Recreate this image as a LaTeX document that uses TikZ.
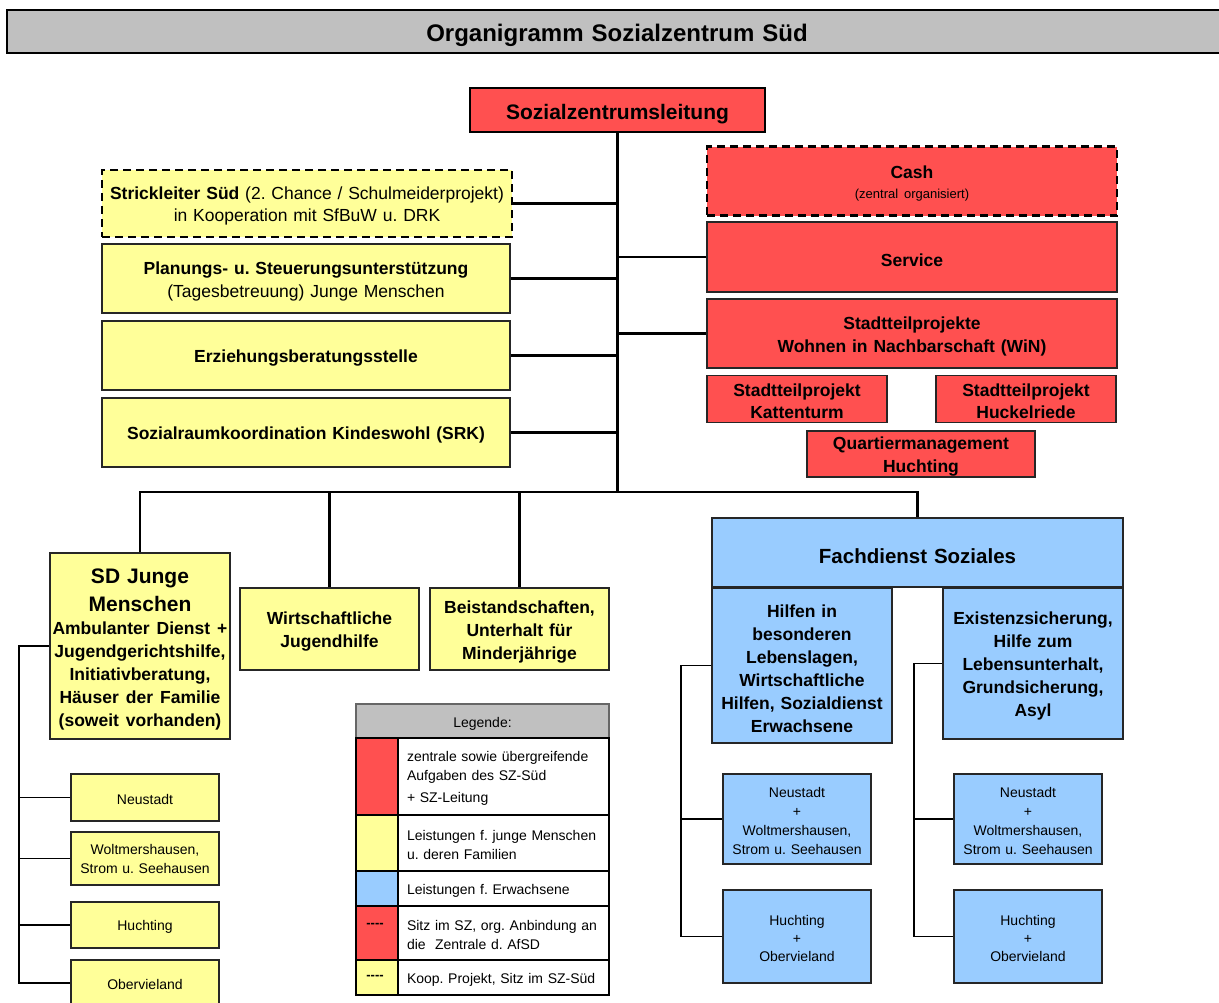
\documentclass[tikz,border=0pt]{standalone}
\usepackage{fontspec}
\setmainfont{Liberation Sans}
\frenchspacing
\definecolor{szred}{HTML}{FF5050}
\definecolor{szyellow}{HTML}{FFFF99}
\definecolor{szblue}{HTML}{99CCFF}
\definecolor{szgray}{HTML}{C0C0C0}
\newcommand\setfs[2]{\fontsize{#1}{#2}\selectfont}
\newcommand\tshamt{0.73em}
\begin{document}
\begin{tikzpicture}[x=1pt,y=-1pt,
  tsh/.code={\def\tshamt{#1}},
  box/.style={draw=black!85, line width=1.4pt, inner sep=0pt, align=center, tsh=1.06em, execute at begin node={\rule{0pt}{\tshamt}}},
  wh/.code 2 args={\pgfmathsetmacro\mytw{#1-3}\edef\mynext{\noexpand\tikzset{minimum width=#1pt,minimum height=#2pt,text width=\mytw pt}}\mynext},
  bf/.style={font=\bfseries\setfs{17.5}{23}},
  rg/.style={font=\setfs{17.5}{23}},
  sm/.style={font=\setfs{14}{19}, tsh=0.94em},
  dashbox/.style={draw=black, line width=2.4pt, dash pattern=on 8pt off 5pt},
  red/.style={fill=szred}, yel/.style={fill=szyellow}, blu/.style={fill=szblue},
  link/.style={draw=black, line width=2.8pt},
  sublink/.style={draw=black, line width=1.8pt},
  thinlink/.style={draw=black, line width=1.5pt},
  legcol/.style={draw=black, line width=2.6pt, minimum width=42pt, inner sep=0pt},
  legtext/.style={draw=black, line width=2.6pt, fill=white, align=left, text width=193pt, inner xsep=9pt, inner ysep=0pt, minimum width=211pt, font=\setfs{14}{19}, tsh=1.02em, execute at begin node={\rule{0pt}{\tshamt}}}
]
\useasboundingbox (0,0) rectangle (1219,1002);
\fill[white] (0,0) rectangle (1219,1002);

% title
\node[box, fill=szgray, draw=black, line width=2.5pt, wh={1220}{43}, font=\bfseries\setfs{24}{28}] (title) at (617,31.5) {Organigramm Sozialzentrum Süd};

% leadership
\node[box, red, draw=black, line width=2.4pt, wh={295}{44}, font=\bfseries\setfs{21}{25}, tsh=1.1em] (lead) at (617.5,110) {Sozialzentrumsleitung};

% left column
\node[box, yel, dashbox, wh={410}{67}, font=\setfs{17.5}{22}, tsh=1.0em] (strick) at (307,203.5) {\textbf{Strickleiter Süd} (2. Chance / Schulmeiderprojekt)\\in Kooperation mit SfBuW u. DRK};
\node[box, yel, wh={408}{69}, rg] (plan) at (306,278.5) {\textbf{Planungs- u. Steuerungsunterstützung}\\(Tagesbetreuung) Junge Menschen};
\node[box, yel, wh={408}{69}, bf] (erz) at (306,355.5) {Erziehungsberatungsstelle};
\node[box, yel, wh={408}{69}, bf] (srk) at (306,432.5) {Sozialraumkoordination Kindeswohl (SRK)};

% right column
\node[box, red, dashbox, wh={410}{69}, font=\bfseries\setfs{17.5}{21}] (cash) at (912,181) {Cash\par{\mdseries\setfs{13}{20}(zentral organisiert)\par}};
\node[box, red, wh={410}{70}, bf] (service) at (912,257) {Service};
\node[box, red, wh={410}{69}, bf] (win) at (912,333.5) {Stadtteilprojekte\\Wohnen in Nachbarschaft (WiN)};
\node[box, red, wh={180}{47}, font=\bfseries\setfs{17.5}{22}, tsh=0.98em] (katt) at (797,399) {Stadtteilprojekt\\Kattenturm};
\node[box, red, wh={180}{47}, font=\bfseries\setfs{17.5}{22}, tsh=0.98em] (huck) at (1026,399) {Stadtteilprojekt\\Huckelriede};
\node[box, red, wh={228}{46}, font=\bfseries\setfs{17.5}{23}, tsh=1.0em] (quart) at (921,454) {Quartiermanagement\\Huchting};

% lower row
\node[box, yel, wh={180}{186}, font=\bfseries\setfs{21}{28}, tsh=1.0em] (sd) at (140,646) {SD Junge\\Menschen\par{\setfs{17.5}{23}Ambulanter Dienst +\\Jugendgerichtshilfe,\\Initiativberatung,\\Häuser der Familie\\(soweit vorhanden)\par}};
\node[box, yel, wh={179}{82}, bf] (wjh) at (329.5,629) {Wirtschaftliche\\Jugendhilfe};
\node[box, yel, wh={179}{82}, bf] (beist) at (519.5,629) {Beistandschaften,\\Unterhalt für\\Minderjährige};

\node[box, blu, wh={411}{69}, font=\bfseries\setfs{20.5}{24}] (fach) at (917.5,552.5) {Fachdienst Soziales};
\node[box, blu, wh={180}{155}, bf] (hilfen) at (802,665.5) {Hilfen in\\besonderen\\Lebenslagen,\\Wirtschaftliche\\Hilfen, Sozialdienst\\Erwachsene};
\node[box, blu, wh={180}{151}, bf] (exist) at (1033,663.5) {Existenzsicherung,\\Hilfe zum\\Lebensunterhalt,\\Grundsicherung,\\Asyl};

% SD sub units
\node[box, yel, wh={148}{47}, sm] (neu1) at (145,797.5) {Neustadt};
\node[box, yel, wh={148}{53}, sm, tsh=0.73em] (wolt1) at (145,858.5) {Woltmershausen,\\Strom u. Seehausen};
\node[box, yel, wh={148}{46}, sm] (huch1) at (145,925) {Huchting};
\node[box, yel, wh={148}{46}, sm] (ober1) at (145,983) {Obervieland};

% blue sub units
\node[box, blu, wh={148}{90}, sm, tsh=0.97em] (bn1) at (797,819) {Neustadt\\+\\Woltmershausen,\\Strom u. Seehausen};
\node[box, blu, wh={148}{93}, font=\setfs{14}{18}, tsh=0.97em] (bh1) at (797,936.5) {Huchting\\+\\Obervieland};
\node[box, blu, wh={148}{90}, sm, tsh=0.97em] (bn2) at (1028,819) {Neustadt\\+\\Woltmershausen,\\Strom u. Seehausen};
\node[box, blu, wh={148}{93}, font=\setfs{14}{18}, tsh=0.97em] (bh2) at (1028,936.5) {Huchting\\+\\Obervieland};

% legend
\node[box, fill=szgray, draw=black!60, wh={253}{34}, font=\setfs{14}{18}, tsh=1.15em] (leghead) at (482.5,721) {Legende:};
\node[legcol, red, minimum height=77pt] (c1) at (377,776.5) {};
\node[legcol, yel, minimum height=56pt] (c2) at (377,843) {};
\node[legcol, blu, minimum height=35pt] (c3) at (377,888.5) {};
\node[legcol, red, minimum height=54pt] (c4) at (377,933) {};
\node[legcol, yel, minimum height=35pt] (c5) at (377,977.5) {};
\node[legtext, minimum height=77pt] (t1) at (503.5,776.5) {zentrale sowie übergreifende\\Aufgaben des SZ-Süd\\[3pt]+ SZ-Leitung};
\node[legtext, minimum height=56pt] (t2) at (503.5,843) {Leistungen f. junge Menschen\\u. deren Familien};
\node[legtext, minimum height=35pt] (t3) at (503.5,888.5) {Leistungen f. Erwachsene};
\node[legtext, minimum height=54pt] (t4) at (503.5,933) {Sitz im SZ, org. Anbindung an\\die\ \ Zentrale d. AfSD};
\node[legtext, minimum height=35pt] (t5) at (503.5,977.5) {Koop. Projekt, Sitz im SZ-Süd};
\node[font=\bfseries\setfs{13}{15}, inner sep=0pt] (d4) at (375,925) {-{}-{}-{}-};
\node[font=\bfseries\setfs{13}{15}, inner sep=0pt] (d5) at (375,977.5) {-{}-{}-{}-};

% connectors
\coordinate (bar) at (617.5,492);
\draw[link] (lead.south) -- (lead.south |- bar);
\foreach \n in {strick,plan,erz,srk}{\draw[link] (\n.east) -- (\n.east -| lead.south);}
\foreach \n in {service,win}{\draw[link] (\n.west) -- (\n.west -| lead.south);}
\draw[link] (sd.north) -- (sd.north |- bar) -- (fach.north |- bar) -- (fach.north);
\draw[link] (wjh.north) -- (wjh.north |- bar);
\draw[link] (beist.north) -- (beist.north |- bar);

\coordinate (sdrail) at (19,646);
\draw[sublink] (sd.west) -- (sdrail) |- (ober1.west);
\foreach \n in {neu1,wolt1,huch1}{\draw[sublink] (\n.west) -- (\n.west -| sdrail);}

\coordinate (hrail) at (681,665.5);
\draw[thinlink] (hilfen.west) -- (hrail) |- (bh1.west);
\draw[thinlink] (bn1.west) -- (bn1.west -| hrail);
\coordinate (erail) at (914,663.5);
\draw[thinlink] (exist.west) -- (erail) |- (bh2.west);
\draw[thinlink] (bn2.west) -- (bn2.west -| erail);
\end{tikzpicture}
\end{document}
